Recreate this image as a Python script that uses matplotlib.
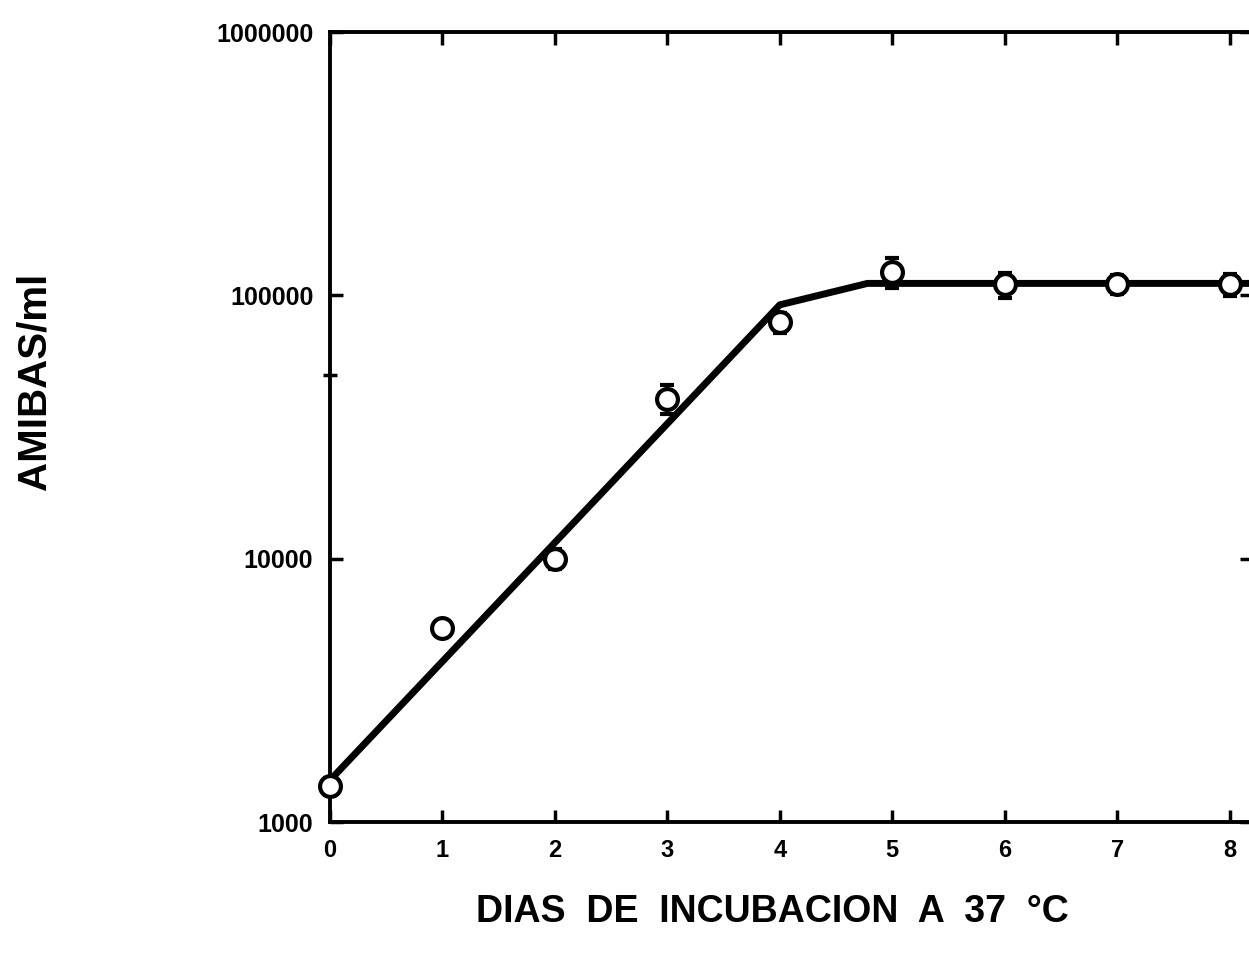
import numpy as np
import matplotlib
matplotlib.use("Agg")
import matplotlib.pyplot as plt

# data
dias = [0, 1, 2, 3, 4, 5, 6, 7, 8]
amibas = [1370, 5450, 10000, 40500, 79000, 123000, 110000, 110000, 110000]
error = [100, 350, 900, 5000, 7000, 16000, 12000, 9000, 11000]

# fitted line (hand drawn in the original)
linea_x = [0, 4, 4.78, 8.2]
linea_y = [1440, 92000, 111000, 111000]

yticks = [1000, 10000, 100000, 1000000]
ytick_labels = ["1000", "10000", "100000", "1000000"]

plt.rcParams['font.family'] = ['Liberation Sans', 'DejaVu Sans']

fig = plt.figure(figsize=(12.49, 9.58), dpi=100)
ax = fig.add_axes([330 / 1249, 1 - 822 / 958, 922 / 1249, 790 / 958])

ax.plot(linea_x, linea_y, color="black", lw=5, solid_capstyle="round", zorder=2)
ax.errorbar(dias, amibas, yerr=error, fmt="o", color="black", ms=15, mfc="white",
            mec="black", mew=3, elinewidth=3, capsize=5, capthick=3, zorder=3,
            clip_on=False)

ax.set_yscale("log")
ax.set_ylim(1000, 1000000)
ax.set_xlim(0, 8.2)

ax.set_yticks(yticks)
ax.set_yticklabels(ytick_labels)
ax.yaxis.set_minor_locator(matplotlib.ticker.FixedLocator([50000]))
ax.yaxis.set_minor_formatter(matplotlib.ticker.NullFormatter())
ax.set_xticks(dias)

for side in ["left", "right", "top", "bottom"]:
    ax.spines[side].set_linewidth(2.8)

ax.tick_params(axis="both", which="major", direction="in", length=9, width=2.5,
               top=True, right=True, pad=12)
ax.tick_params(axis="y", labelsize=18)
ax.tick_params(axis="x", labelsize=17)
ax.tick_params(axis="y", which="minor", direction="inout", length=10, width=2.5)
for lab in ax.get_xticklabels() + ax.get_yticklabels():
    lab.set_fontweight("bold")

fig.text(772 / 1249, 1 - 912 / 958, "DIAS  DE  INCUBACION  A  37  °C",
         ha="center", va="center", fontsize=27, fontweight="bold")
fig.text(35 / 1249, 1 - 381 / 958, "AMIBAS/ml", rotation=90,
         ha="center", va="center", fontsize=29, fontweight="bold")

fig.savefig("out.png", dpi=100)
